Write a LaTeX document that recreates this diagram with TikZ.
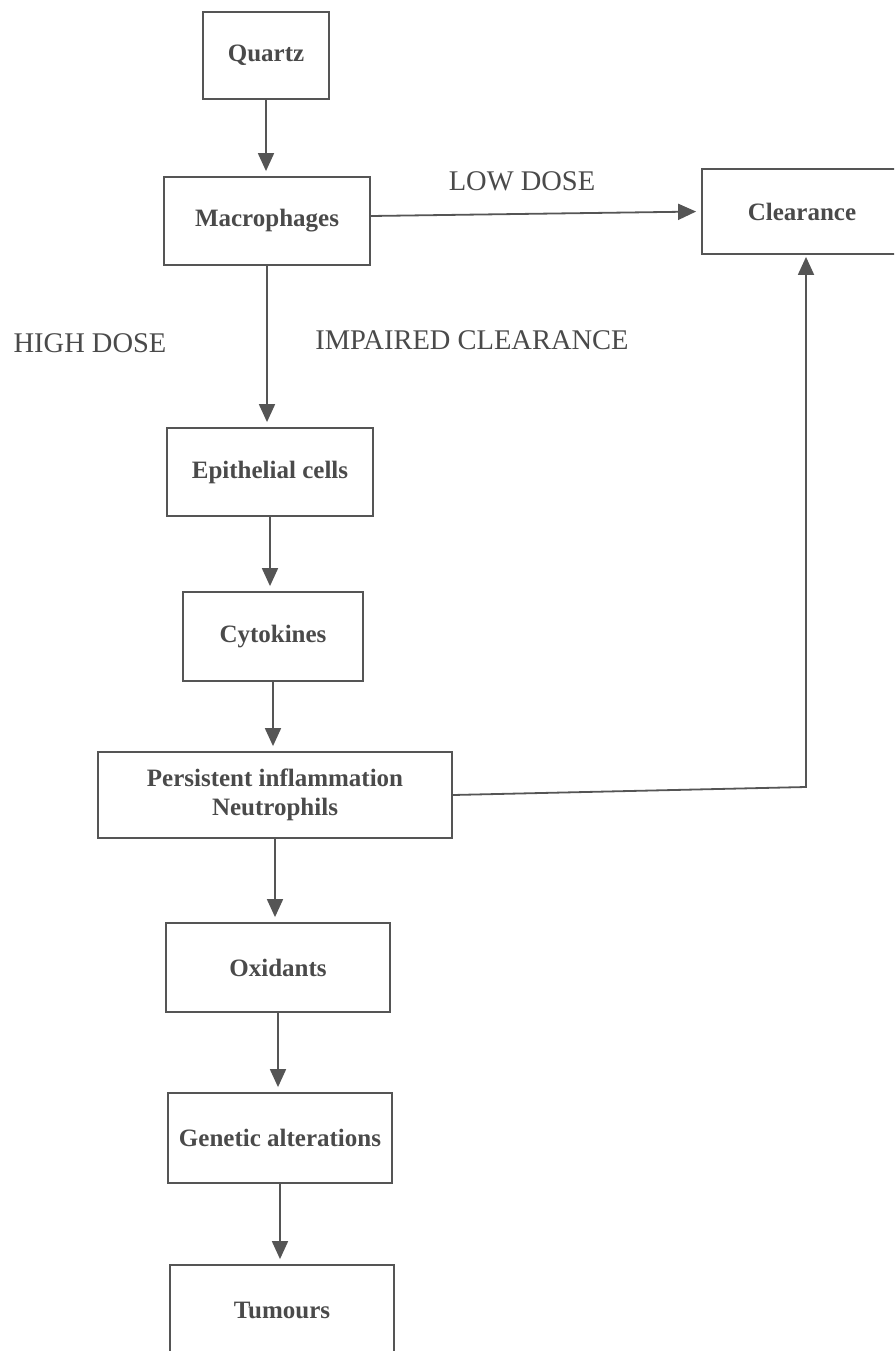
\documentclass[tikz,border=0pt]{standalone}
\usepackage{fontspec}
\setmainfont{Liberation Serif}
\usetikzlibrary{arrows.meta}
\definecolor{ink}{HTML}{4A4A4A}
\definecolor{linec}{HTML}{555555}
\tikzset{
  box/.style={draw=linec, line width=1.8pt, rectangle, inner sep=0pt, align=center,
    font=\fontsize{25}{29}\selectfont\bfseries, text=ink},
  lbl/.style={font=\fontsize{28.5}{32}\selectfont, text=ink, inner sep=0pt},
  arr/.style={draw=linec, line width=1.8pt, -{Triangle[length=18pt,width=16pt]}, shorten >=5pt}
}
\begin{document}
\begin{tikzpicture}[x=1pt,y=-1pt]
\useasboundingbox (0,0) rectangle (894,1351);
\clip (0,0) rectangle (894,1351);
\node[box, minimum width=126pt, minimum height=87pt] (quartz) at (266,55.5) {Quartz};
\node[box, minimum width=206pt, minimum height=88pt] (macro) at (267,221) {Macrophages};
\node[box, minimum width=200pt, minimum height=85pt] (clear) at (802,211.5) {Clearance};
\node[box, minimum width=206pt, minimum height=88pt] (epi) at (270,472) {Epithelial cells};
\node[box, minimum width=180pt, minimum height=89pt] (cyto) at (273,636.5) {Cytokines};
\node[box, minimum width=354pt, minimum height=86pt] (pers) at (275,795) {Persistent inflammation\\Neutrophils};
\node[box, minimum width=224pt, minimum height=89pt] (oxi) at (278,967.5) {Oxidants};
\node[box, minimum width=224pt, minimum height=90pt] (gen) at (280,1138) {Genetic alterations};
\node[box, minimum width=224pt, minimum height=90pt] (tum) at (282,1310) {Tumours};

\node[lbl] (low) at (522,181) {LOW DOSE};
\node[lbl] (high) at (90,343) {HIGH DOSE};
\node[lbl] (imp) at (472,340) {IMPAIRED CLEARANCE};

\coordinate (fb) at (806,787);

\draw[arr] (quartz.south) -- (quartz.south |- macro.north);
\draw[arr] (macro.south) -- (macro.south |- epi.north);
\draw[arr] (epi.south) -- (epi.south |- cyto.north);
\draw[arr] (cyto.south) -- (cyto.south |- pers.north);
\draw[arr] (pers.south) -- (pers.south |- oxi.north);
\draw[arr] (oxi.south) -- (oxi.south |- gen.north);
\draw[arr] (gen.south) -- (gen.south |- tum.north);
\draw[arr] ([yshift=5pt]macro.east) -- (clear.west);
\draw[arr, shorten >=2pt] (pers.east) -- (fb) -- (fb |- clear.south);
\end{tikzpicture}
\end{document}
